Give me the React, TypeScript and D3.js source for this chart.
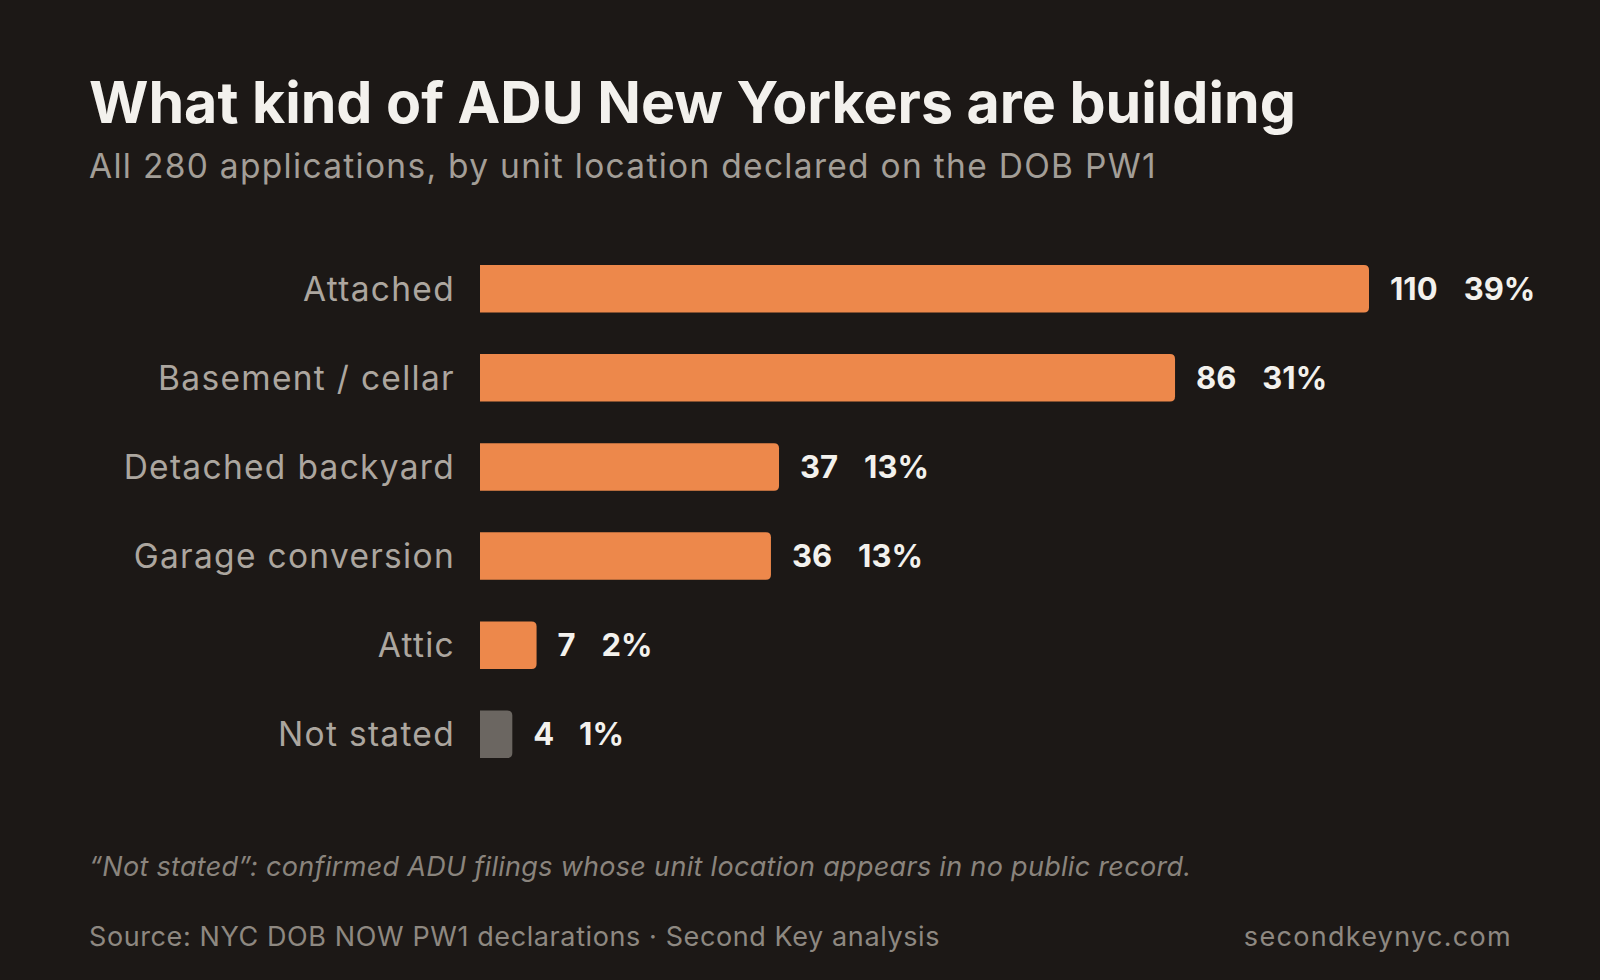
import React, { useEffect, useRef } from 'react';
import * as d3 from 'd3';

// Unit locations declared on the DOB PW1
const categories = ['Attached', 'Basement / cellar', 'Detached backyard', 'Garage conversion', 'Attic', 'Not stated'];
const counts = [110, 86, 37, 36, 7, 4];
const shares = ['39%', '31%', '13%', '13%', '2%', '1%'];
const unknownCategory = 'Not stated';

const W = 1600;
const H = 980;
const FONT = 'Inter, "Noto Sans", sans-serif';

const App: React.FC = () => {
  const svgRef = useRef<SVGSVGElement>(null);

  useEffect(() => {
    if (!svgRef.current) return;
    document.body.style.margin = '0';
    document.body.style.background = '#1c1816';

    // Clear previous chart
    const svg = d3.select(svgRef.current);
    svg.selectAll('*').remove();

    svg.append('rect').attr('width', W).attr('height', H).attr('fill', '#1c1816');

    // Title and subtitle
    svg
      .append('text')
      .attr('x', 89)
      .attr('y', 123)
      .attr('font-family', FONT)
      .attr('font-weight', 700)
      .attr('font-size', 57.3)
      .attr('fill', '#f3f1ed')
      .text('What kind of ADU New Yorkers are building');

    svg
      .append('text')
      .attr('x', 89)
      .attr('y', 178)
      .attr('font-family', FONT)
      .attr('font-weight', 400)
      .attr('font-size', 33.5)
      .attr('letter-spacing', 1.3)
      .attr('fill', '#a39e97')
      .text('All 280 applications, by unit location declared on the DOB PW1');

    // Scales
    const x = d3.scaleLinear().domain([0, 110]).range([480, 1369]);
    const y = d3.scaleBand<string>().domain(categories).range([265, 758]).paddingInner(0.467);

    const rows = categories.map((c, i) => ({ name: c, count: counts[i], share: shares[i] }));

    // Bars: square on the left, rounded on the right
    const r = 5;
    const barPath = (x0: number, x1: number, y0: number, h: number) => {
      const w = x1 - x0;
      const rr = Math.min(r, w / 2);
      return `M${x0},${y0}H${x1 - rr}Q${x1},${y0} ${x1},${y0 + rr}V${y0 + h - rr}Q${x1},${y0 + h} ${x1 - rr},${y0 + h}H${x0}Z`;
    };

    const g = svg.append('g');

    g.selectAll('path.bar')
      .data(rows)
      .enter()
      .append('path')
      .attr('class', 'bar')
      .attr('d', d => barPath(x(0), x(d.count), y(d.name)!, y.bandwidth()))
      .attr('fill', d => (d.name === unknownCategory ? '#6b6661' : '#ed884b'));

    // Category labels
    g.selectAll('text.cat')
      .data(rows)
      .enter()
      .append('text')
      .attr('class', 'cat')
      .attr('x', x(0) - 25)
      .attr('y', d => y(d.name)! + y.bandwidth() / 2)
      .attr('dy', '0.36em')
      .attr('text-anchor', 'end')
      .attr('font-family', FONT)
      .attr('font-size', 33.5)
      .attr('letter-spacing', 1.3)
      .attr('fill', '#aca69f')
      .text(d => d.name);

    // Count + share labels
    const val = g
      .selectAll('text.val')
      .data(rows)
      .enter()
      .append('text')
      .attr('class', 'val')
      .attr('x', d => x(d.count) + 21)
      .attr('y', d => y(d.name)! + y.bandwidth() / 2)
      .attr('dy', '0.36em')
      .attr('font-family', FONT)
      .attr('font-weight', 700)
      .attr('font-size', 31)
      .attr('fill', '#f3f1ed');

    val.append('tspan').text(d => String(d.count));
    val.append('tspan').attr('dx', 26).text(d => d.share);

    // Footnote
    svg
      .append('text')
      .attr('x', 89)
      .attr('y', 876)
      .attr('font-family', FONT)
      .attr('font-style', 'italic')
      .attr('font-size', 27)
      .attr('letter-spacing', 0.3)
      .attr('fill', '#8a847d')
      .text('\u201cNot stated\u201d: confirmed ADU filings whose unit location appears in no public record.');

    svg
      .append('text')
      .attr('x', 89)
      .attr('y', 946)
      .attr('font-family', FONT)
      .attr('font-size', 27)
      .attr('letter-spacing', 0.6)
      .attr('fill', '#8e8881')
      .text('Source: NYC DOB NOW PW1 declarations \u00b7 Second Key analysis');

    svg
      .append('text')
      .attr('x', 1512)
      .attr('y', 946)
      .attr('text-anchor', 'end')
      .attr('font-family', FONT)
      .attr('font-size', 27)
      .attr('letter-spacing', 1.3)
      .attr('fill', '#8e8881')
      .text('secondkeynyc.com');
  }, []);

  return <svg ref={svgRef} width={W} height={H} style={{ display: 'block' }} />;
};

export default App;
